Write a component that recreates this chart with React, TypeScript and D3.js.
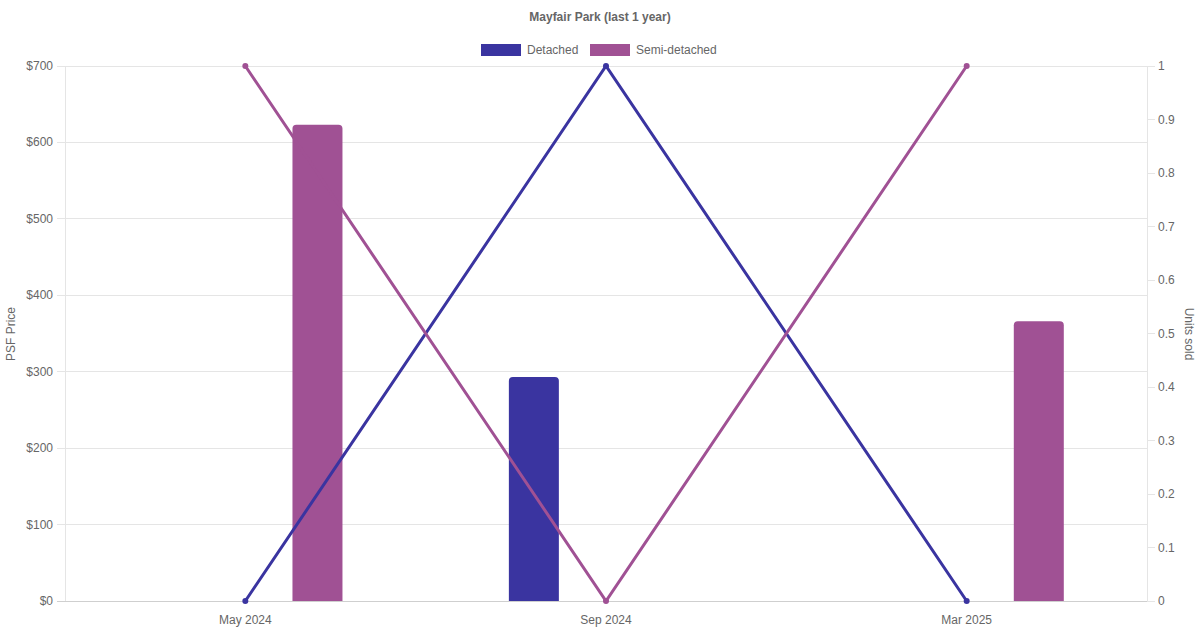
import React from "react";
import * as d3 from "d3";

const categories = ["May 2024", "Sep 2024", "Mar 2025"];
const seriesNames = ["Detached", "Semi-detached"];
const colors = ["#3a34a0", "#a05194"];
const detachedPsf: (number | null)[] = [null, 293, null];
const semiPsf: (number | null)[] = [623, null, 366];
const detachedUnits = [0, 1, 0];
const semiUnits = [1, 0, 1];
const leftTicks = [0, 100, 200, 300, 400, 500, 600, 700];
const rightTicks = [0, 0.1, 0.2, 0.3, 0.4, 0.5, 0.6, 0.7, 0.8, 0.9, 1];

const W = 1200, H = 630;
const L = 65, R = 1147, T = 66, B = 601;
const FONT = "'Liberation Sans', Arial, Helvetica, sans-serif";
const TXT = "#666";
const GRID = "#e5e5e5";

export default function App() {
  const x = d3.scaleBand<string>().domain(categories).range([L, R]).paddingInner(0).paddingOuter(0);
  const inner = d3.scaleBand<string>().domain(seriesNames).range([0, x.bandwidth() * 0.8]);
  const yL = d3.scaleLinear().domain([0, 700]).range([B, T]);
  const yR = d3.scaleLinear().domain([0, 1]).range([B, T]);
  const barW = 50;
  const psf = [detachedPsf, semiPsf];
  const units = [detachedUnits, semiUnits];
  const cx = (c: string) => (x(c) as number) + x.bandwidth() / 2;
  const line = d3.line<number>().x((_, i) => cx(categories[i])).y((d) => yR(d));

  const barPath = (x0: number, y0: number, w: number, h: number, r: number) =>
    `M${x0},${y0 + h}V${y0 + r}Q${x0},${y0} ${x0 + r},${y0}H${x0 + w - r}Q${x0 + w},${y0} ${x0 + w},${y0 + r}V${y0 + h}Z`;

  return (
    <svg width={W} height={H} style={{ position: "absolute", left: 0, top: 0, background: "#fff" }} fontFamily={FONT}>
      <text x={600} y={21} textAnchor="middle" fontSize={12} fontWeight="bold" fill={TXT}>
        Mayfair Park (last 1 year)
      </text>
      {/* legend */}
      {[
        { name: seriesNames[0], bx: 481, tx: 527 },
        { name: seriesNames[1], bx: 590, tx: 636 },
      ].map((l, i) => (
        <g key={l.name}>
          <rect x={l.bx} y={44} width={40} height={12} fill={colors[i]} />
          <text x={l.tx} y={54} fontSize={12} fill={TXT}>{l.name}</text>
        </g>
      ))}
      {/* grid */}
      {leftTicks.map((t) => (
        <g key={t}>
          <line x1={57} x2={R} y1={yL(t)} y2={yL(t)} stroke={t === 0 ? "#cfcfcf" : GRID} strokeWidth={1} shapeRendering="crispEdges" />
          <text x={53} y={yL(t) + 4} textAnchor="end" fontSize={12} fill={TXT}>{"$" + t}</text>
        </g>
      ))}
      {rightTicks.map((t) => (
        <g key={t}>
          <line x1={R} x2={1155} y1={yR(t)} y2={yR(t)} stroke={GRID} shapeRendering="crispEdges" />
          <text x={1158} y={yR(t) + 4} fontSize={12} fill={TXT}>{d3.format("~g")(t)}</text>
        </g>
      ))}
      <line x1={L} x2={L} y1={T} y2={B} stroke={GRID} shapeRendering="crispEdges" />
      <line x1={R} x2={R} y1={T} y2={B} stroke={GRID} shapeRendering="crispEdges" />
      {categories.map((c) => (
        <text key={c} x={cx(c)} y={624} textAnchor="middle" fontSize={12} fill={TXT}>{c}</text>
      ))}
      <text transform={`translate(15,334) rotate(-90)`} textAnchor="middle" fontSize={12} fill={TXT}>PSF Price</text>
      <text transform={`translate(1185,334) rotate(90)`} textAnchor="middle" fontSize={12} fill={TXT}>Units sold</text>
      {/* bars */}
      {psf.map((arr, si) =>
        arr.map((v, i) => {
          if (v == null) return null;
          const c = categories[i];
          const slotC = (x(c) as number) + x.bandwidth() * 0.1 + (inner(seriesNames[si]) as number) + inner.bandwidth() / 2;
          const y0 = yL(v);
          return <path key={si + "-" + i} d={barPath(slotC - barW / 2, y0, barW, B - y0, 4)} fill={colors[si]} />;
        })
      )}
      {/* lines */}
      {units.map((arr, si) => (
        <g key={si}>
          <path d={line(arr) || ""} fill="none" stroke={colors[si]} strokeWidth={3} />
          {arr.map((v, i) => (
            <circle key={i} cx={cx(categories[i])} cy={yR(v)} r={3} fill={colors[si]} />
          ))}
        </g>
      ))}
    </svg>
  );
}
